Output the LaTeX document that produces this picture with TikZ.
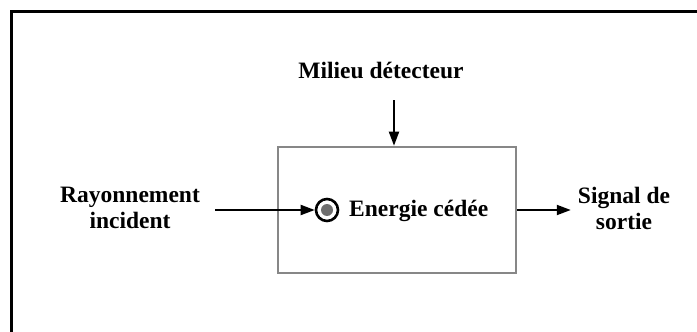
\documentclass[tikz,border=0pt]{standalone}
\usepackage{fontspec}
\setmainfont{Liberation Serif}
\usepackage{xcolor}
\usepackage{tikz}
\usetikzlibrary{arrows.meta, positioning, calc}
\definecolor{boxgray}{RGB}{135, 135, 135}
\definecolor{dotgray}{RGB}{110, 110, 110}

\begin{document}
\begin{tikzpicture}[
    x=1pt, y=-1pt,
    lbl/.style={font=\fontsize{23.5}{26}\selectfont\bfseries, align=center, inner sep=2pt},
    boite/.style={rectangle, draw=boxgray, line width=2.6pt, minimum width=238pt, minimum height=126pt, inner sep=0pt},
    cible/.style={circle, draw=black, line width=2.6pt, minimum size=22pt, inner sep=0pt},
    cadre/.style={black, line width=3pt},
    arr/.style={-{Triangle[length=14pt, width=10pt]}, line width=2pt, black}
]
\useasboundingbox (0,0) rectangle (697,332);

% ── Frame ──
\draw[cadre] (11.5,332) -- (11.5,11) -- (697,11);

% ── Detector box ──
\node[boite] (box) at (397,210) {};

% Target symbol
\node[cible] (cible) at (327,210) {};
\fill[dotgray] (cible.center) circle (6);
\node[lbl, anchor=west] (energie) at (347,211) {Energie cédée};

% ── Labels ──
\node[lbl] (milieu) at (381,70) {Milieu détecteur};
\node[lbl] (rayon) at (130,208) {Rayonnement\\incident};
\node[lbl] (signal) at (624,208) {Signal de\\sortie};

% ── Arrows ──
\coordinate (haut) at (394,100);
\draw[arr] (haut) -- (haut |- box.north);
\draw[arr, shorten <=13pt] (rayon.east |- cible.west) -- (cible.west);
\draw[arr] (box.east |- cible.east) -- ([xshift=-5pt]signal.west |- cible.east);

\end{tikzpicture}
\end{document}
